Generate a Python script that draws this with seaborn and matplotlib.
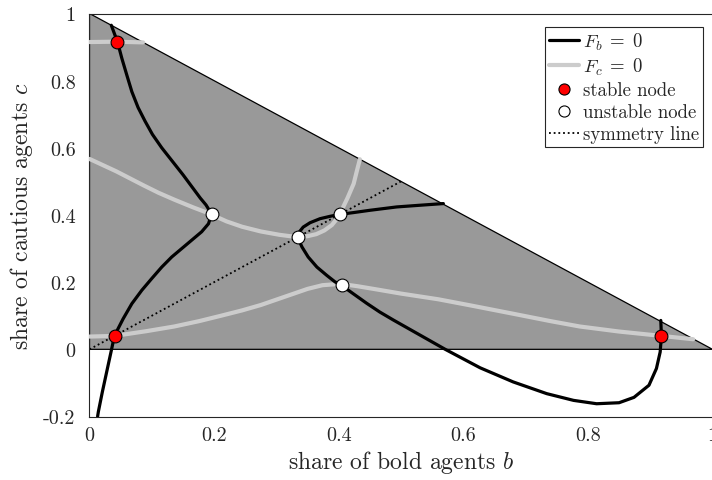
import numpy as np
import pandas as pd
import matplotlib
matplotlib.use("Agg")
import matplotlib.pyplot as plt
import seaborn as sns
from matplotlib.lines import Line2D

sns.set_theme(style="white")
plt.rcParams["font.family"] = ["cmr10", "DejaVu Serif"]
plt.rcParams["mathtext.fontset"] = "cm"
plt.rcParams["axes.unicode_minus"] = False
plt.rcParams["axes.formatter.use_mathtext"] = True

# ---- data ----
# F_b = 0 (black), left branch: from hypotenuse down to bottom
fb1_b = [0.035, 0.045, 0.052, 0.060, 0.068, 0.078, 0.089, 0.101, 0.116, 0.133, 0.150, 0.166,
         0.178, 0.187, 0.196, 0.191, 0.180, 0.164, 0.148, 0.132, 0.116, 0.100, 0.084, 0.068,
         0.054, 0.046, 0.040, 0.0345, 0.0276, 0.0206, 0.0142, 0.013]
fb1_c = [0.965, 0.915, 0.866, 0.816, 0.767, 0.720, 0.680, 0.640, 0.600, 0.560, 0.520, 0.480,
         0.450, 0.430, 0.403, 0.374, 0.350, 0.325, 0.300, 0.275, 0.245, 0.211, 0.176, 0.136,
         0.091, 0.062, 0.040, -0.008, -0.067, -0.127, -0.186, -0.200]
# F_b = 0 (black), middle branch: hypotenuse -> loop -> down -> hypotenuse
fb2_b = [0.568, 0.530, 0.493, 0.450, 0.423, 0.402, 0.386, 0.370, 0.354, 0.343, 0.337, 0.334,
         0.341, 0.351, 0.365, 0.381, 0.394, 0.405, 0.423, 0.445, 0.466, 0.488, 0.530, 0.571,
         0.627, 0.680, 0.734, 0.777, 0.814, 0.850, 0.874, 0.898, 0.910, 0.916, 0.918, 0.917]
fb2_c = [0.434, 0.429, 0.424, 0.414, 0.407, 0.402, 0.396, 0.389, 0.377, 0.364, 0.350, 0.334,
         0.305, 0.275, 0.245, 0.220, 0.201, 0.190, 0.166, 0.137, 0.111, 0.087, 0.043, 0.000,
         -0.055, -0.097, -0.132, -0.152, -0.162, -0.159, -0.143, -0.107, -0.057, -0.008, 0.040, 0.086]

# F_c = 0 (light grey), top branch
fc1_b = [0.000, 0.040, 0.086]
fc1_c = [0.915, 0.916, 0.914]
# F_c = 0, middle branch: from c-axis to hypotenuse
fc2_b = [0.000, 0.043, 0.087, 0.111, 0.137, 0.166, 0.190, 0.220, 0.245, 0.275, 0.305, 0.334,
         0.350, 0.364, 0.377, 0.389, 0.396, 0.402, 0.407, 0.414, 0.424, 0.429, 0.434]
fc2_c = [0.567, 0.530, 0.488, 0.466, 0.445, 0.423, 0.406, 0.381, 0.365, 0.351, 0.341, 0.334,
         0.337, 0.343, 0.354, 0.370, 0.386, 0.402, 0.423, 0.450, 0.493, 0.530, 0.566]
# F_c = 0, bottom branch: from c-axis to hypotenuse
fc3_b = [0.000, 0.040, 0.062, 0.091, 0.136, 0.176, 0.211, 0.245, 0.275, 0.300, 0.325, 0.350,
         0.374, 0.403, 0.430, 0.459, 0.500, 0.560, 0.611, 0.680, 0.740, 0.787, 0.850, 0.918, 0.969]
fc3_c = [0.038, 0.040, 0.046, 0.054, 0.068, 0.084, 0.100, 0.116, 0.132, 0.148, 0.164, 0.180,
         0.191, 0.195, 0.188, 0.179, 0.166, 0.149, 0.131, 0.106, 0.084, 0.068, 0.053, 0.040, 0.030]

stable_b = [0.044, 0.041, 0.917]
stable_c = [0.916, 0.040, 0.040]
unstable_b = [0.196, 0.334, 0.402, 0.405]
unstable_c = [0.403, 0.334, 0.402, 0.191]

sym_b = [0.0, 0.5]
sym_c = [0.0, 0.5]

simplex_b = [0.0, 1.0, 0.0]
simplex_c = [0.0, 0.0, 1.0]

xticks = [0, 0.2, 0.4, 0.6, 0.8, 1]
xticklabels = ["0", "0.2", "0.4", "0.6", "0.8", "1"]
yticks = [-0.2, 0, 0.2, 0.4, 0.6, 0.8, 1]
yticklabels = ["-0.2", "0", "0.2", "0.4", "0.6", "0.8", "1"]

# ---- figure ----
fig = plt.figure(figsize=(7.12, 4.81), dpi=100)
ax = fig.add_axes([89.5 / 712, (481 - 417.5) / 481, 623 / 712, (417.5 - 14.5) / 481])

ax.fill(simplex_b, simplex_c, facecolor="#999999", edgecolor="black", linewidth=0.9, zorder=1)

def draw(bs, cs, color, lw, z):
    df = pd.DataFrame({"b": bs, "c": cs})
    sns.lineplot(data=df, x="b", y="c", sort=False, estimator=None, color=color,
                 linewidth=lw, ax=ax, zorder=z)

sns.lineplot(x=sym_b, y=sym_c, sort=False, estimator=None, color="black", linewidth=1.3,
             linestyle=(0, (1, 1.6)), ax=ax, zorder=2)
for bs, cs in [(fc1_b, fc1_c), (fc2_b, fc2_c), (fc3_b, fc3_c)]:
    draw(bs, cs, "#cccccc", 3.0, 3)
for bs, cs in [(fb1_b, fb1_c), (fb2_b, fb2_c)]:
    draw(bs, cs, "black", 2.3, 4)

sns.scatterplot(x=stable_b, y=stable_c, s=85, color="#ff0000", edgecolor="black",
                linewidth=0.8, ax=ax, zorder=5)
sns.scatterplot(x=unstable_b, y=unstable_c, s=85, color="white", edgecolor="black",
                linewidth=0.8, ax=ax, zorder=5)

ax.set_xlim(0, 1)
ax.set_ylim(-0.2, 1)
ax.set_xticks(xticks)
ax.set_xticklabels(xticklabels)
ax.set_yticks(yticks)
ax.set_yticklabels(yticklabels)
ax.tick_params(direction="in", length=5, width=0.8, colors="#262626", labelsize=14.5,
               labelcolor="#262626")
ax.tick_params(axis="x", pad=7)
ax.tick_params(axis="y", pad=10)
ax.set_axisbelow(True)
for s in ax.spines.values():
    s.set_color("#262626")
    s.set_linewidth(0.8)
ax.set_xlabel("share of bold agents $b$", fontsize=17, color="#262626", labelpad=3)
ax.set_ylabel("share of cautious agents $c$", fontsize=17, color="#262626", labelpad=6)

handles = [
    Line2D([], [], color="black", lw=2.3),
    Line2D([], [], color="#cccccc", lw=3.0),
    Line2D([], [], ls="none", marker="o", markersize=8, markerfacecolor="#ff0000",
           markeredgecolor="black", markeredgewidth=0.8),
    Line2D([], [], ls="none", marker="o", markersize=8, markerfacecolor="white",
           markeredgecolor="black", markeredgewidth=0.8),
    Line2D([], [], color="black", lw=1.3, ls=(0, (1, 1.6))),
]
labels = ["$F_b\\;=\\;0$", "$F_c\\;=\\;0$", "stable node", "unstable node", "symmetry line"]
leg = ax.legend(handles, labels, loc="upper right", bbox_to_anchor=(0.9845, 0.967),
                fontsize=13.5, frameon=True, fancybox=False, edgecolor="#262626",
                framealpha=1, handlelength=1.6, handletextpad=0.2, borderpad=0.2,
                labelspacing=0.22, borderaxespad=0)
leg.get_frame().set_linewidth(0.8)

fig.savefig("out.png", dpi=100)
